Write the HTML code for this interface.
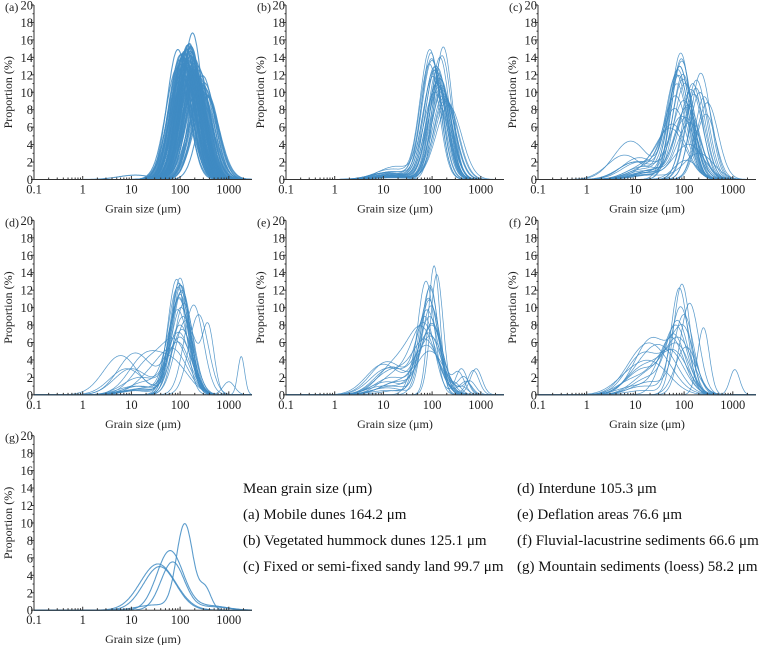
<!DOCTYPE html>
<html><head><meta charset="utf-8"><style>
body{margin:0;background:#fff}
svg{display:block;font-family:"Liberation Serif",serif}
</style></head><body>
<svg id="chart" width="760" height="645" viewBox="0 0 760 645" xmlns="http://www.w3.org/2000/svg">
<g id="legend" font-size="15" fill="#111">
<text x="243" y="493">Mean grain size (μm)</text>
<text x="243" y="519">(a) Mobile dunes  164.2 μm</text>
<text x="243" y="545">(b) Vegetated hummock dunes  125.1 μm</text>
<text x="243" y="571">(c) Fixed or semi-fixed sandy land 99.7 μm</text>
<text x="517" y="493">(d) Interdune  105.3 μm</text>
<text x="517" y="519">(e) Deflation areas  76.6 μm</text>
<text x="517" y="545">(f) Fluvial-lacustrine sediments  66.6 μm</text>
<text x="517" y="571">(g) Mountain sediments (loess)  58.2 μm</text>
</g>
</svg>
<script>
const yTicks=[0,2,4,6,8,10,12,14,16,18,20];
const xTickVals=[0.1,1,10,100,1000];
const xTickLabels=["0.1","1","10","100","1000"];
const panelLabels=["(a)","(b)","(c)","(d)","(e)","(f)","(g)"];

const aH=[16.8,15.5,15.2,14.8,14.5,14.2,14.0,13.8,13.5,13.2,13.0,12.8,12.5,12.2,12.0,11.8,11.5,11.2,11.0,10.8,10.5,15.0,14.6,14.1,13.7,13.1,12.6,12.1,11.6,15.3,14.9,13.9,13.3,12.9,12.3,11.9,10.9,10.2,9.8,9.5,14.4,13.6,12.4,11.4,15.1,14.7,13.4,12.7,11.7,10.6,14.9,14.3,13.8,13.2,12.6,12.0,11.3,10.7,10.0,9.2,15.4,14.7,14.0,13.5,12.9,12.2,11.6,10.9,15.6,14.5,13.7,12.8,11.9,11.1,14.2,13.3,12.5,11.5,10.4,9.6];
const aM=[180,150,170,130,120,160,110,200,140,100,230,125,250,190,105,210,160,95,270,300,320,135,175,115,155,145,185,205,225,165,140,128,118,195,215,240,260,280,330,350,108,148,172,188,158,122,138,168,198,178,90,102,112,126,136,152,176,196,222,262,142,162,182,132,152,172,212,242,155,118,98,88,290,310,165,185,145,125,105,380];
const aS=[0.2,0.22,0.21,0.23,0.22,0.2,0.23,0.21,0.22,0.24,0.22,0.23,0.21,0.22,0.24,0.23,0.25,0.25,0.22,0.22,0.23,0.21,0.22,0.23,0.22,0.23,0.24,0.23,0.24,0.21,0.22,0.22,0.23,0.23,0.23,0.24,0.24,0.25,0.26,0.26,0.22,0.22,0.23,0.24,0.2,0.21,0.22,0.23,0.24,0.25,0.22,0.22,0.23,0.23,0.24,0.24,0.25,0.25,0.26,0.27,0.21,0.22,0.22,0.23,0.23,0.24,0.24,0.25,0.21,0.22,0.23,0.24,0.24,0.25,0.22,0.23,0.24,0.25,0.26,0.22];
const aH2=[0.5,0,0,0,0,0,0,0,0,0];
const aM2=[12];

const bH=[14.8,14.5,15.2,13.0,12.8,12.5,12.0,11.5,11.0,10.5,10.0,9.5,9.0,13.5,14.0,12.2,11.8,10.8,9.8,8.5,13.2,12.6,11.2,10.2,9.2,14.2,13.8,12.9,11.6,10.6];
const bM=[90,95,170,120,130,110,140,150,125,160,115,180,200,100,145,135,105,155,175,220,88,118,128,165,190,160,98,112,142,138];
const bS=[0.2,0.19,0.18,0.21,0.2,0.22,0.2,0.21,0.22,0.21,0.24,0.22,0.24,0.2,0.19,0.21,0.22,0.21,0.23,0.26,0.2,0.21,0.22,0.23,0.24,0.19,0.21,0.21,0.22,0.23];
const bH2=[1.2,0.8,0,0.6,0.5,0.9,0.4,0.3,0.7,0.5,0.3,0.2,0.4,1.5,0,0.6,0.8,0.5,0.3,0.3,0.7,0.5,0.4,0.3,0.2,0,0.9,0.6,0.4,0.3];
const bM2=[15,12,15,15,10,15,15,15,12,15,15,15,15,18,15,15,12,15,15,15,15,15,15,15,15,15,15,15,15,15];

const cH=[14.5,13.5,13.0,12.5,12.0,11.5,11.0,10.5,10.0,9.5,9.0,8.5,8.0,7.5,7.0,6.5,12.2,11.4,10.2,9.8,8.8,7.2,6.0,5.5,13.8,12.8,11.8,10.8,9.2,8.2,4.0,3.0,2.2,12.0,11.0];
const cM=[85,90,80,75,70,95,150,175,210,260,100,120,65,280,110,130,220,180,140,160,300,90,60,55,88,82,78,72,68,115,125,200,110,95,105];
const cS=[0.2,0.21,0.22,0.22,0.23,0.22,0.2,0.2,0.2,0.19,0.24,0.24,0.25,0.2,0.25,0.25,0.2,0.21,0.23,0.22,0.22,0.27,0.28,0.3,0.2,0.21,0.22,0.22,0.24,0.25,0.3,0.3,0.25,0.21,0.22];
const cH2=[0,1,0,4.4,2.8,0,0,0,0,0,2.5,1.5,2,0,1,0.8,0,0,1.2,0,0,2,1.5,1,0.5,0.8,1.2,2,1.5,0.8,0.5,0.5,0,0.8,0.6];
const cM2=[8,15,8,8,6,8,8,8,8,8,12,15,10,8,20,20,8,8,25,8,8,10,15,18,15,20,15,12,18,20,20,20,8,15,18];

const dH=[13.4,13.2,12.8,12.5,12.2,12.0,11.5,11.0,10.5,10.0,9.5,9.0,8.5,8.0,7.0,6.0,5.0,4.0,3.0,10.3,9.2,12.6,11.8,11.2,7.5,6.5];
const dM=[100,85,95,105,90,110,100,95,120,105,90,115,130,100,95,90,85,80,80,190,240,100,105,95,110,100];
const dS=[0.18,0.18,0.19,0.19,0.2,0.2,0.21,0.21,0.2,0.21,0.22,0.22,0.22,0.23,0.24,0.25,0.26,0.28,0.3,0.2,0.2,0.2,0.2,0.21,0.22,0.24];
const dH2=[0,0.5,0,1,0.8,0,0.5,1,0,0.6,1.5,0,0,4.5,4.8,3,4,2.5,4.5,0,0,0,0.7,0,3,2];
const dM2=[10,15,10,15,20,10,10,12,10,15,20,10,10,6,12,10,25,30,20,10,10,10,15,10,8,15];
const dH3=[0,0,0,0,0,0,0,0,0,0,0,0,7.3,0,0,0,0,0,0,0,0,4.4,0,1.5,0,0];
const dM3=[500,500,500,500,500,500,500,500,500,500,500,500,380,500,500,500,500,500,500,500,500,1800,500,1000,500,500];

const eH=[14.8,13.8,13.0,12.2,11.0,10.2,9.5,8.8,8.0,7.5,7.0,6.5,6.0,5.5,5.0,9.0,7.8,6.8,10.8,12.5];
const eM=[110,125,75,90,85,95,80,90,100,70,85,95,75,80,90,70,100,65,88,92];
const eS=[0.12,0.13,0.17,0.18,0.2,0.2,0.22,0.22,0.22,0.25,0.25,0.26,0.27,0.28,0.3,0.2,0.22,0.28,0.19,0.16];
const eH2=[0,0,0.5,1,1.5,0,3.8,2,3.2,2.5,3.5,1.5,2.8,3,1,0,1.5,3.5,0.5,0.8];
const eM2=[15,15,12,15,12,15,12,15,15,20,10,20,15,12,10,15,20,18,20,12];
const eH3=[0,0,0,1,0,2.5,0,2.8,1.5,0,2,0,3,0,1.5,3,0,0,1.2,0];
const eM3=[500,500,500,400,500,350,500,700,500,500,450,500,800,500,600,400,500,500,300,500];

const fH=[12.7,12.2,10.5,10.0,9.0,8.0,7.5,7.0,6.5,6.0,5.5,5.0,4.5,4.0,3.5,3.0,7.7,2.9,6.8,5.2];
const fM=[90,80,130,85,100,75,70,60,55,80,110,50,65,40,30,25,250,1100,100,75];
const fS=[0.17,0.17,0.19,0.2,0.2,0.22,0.23,0.25,0.26,0.28,0.22,0.3,0.28,0.32,0.35,0.35,0.12,0.1,0.22,0.25];
const fH2=[0,0.5,0,1,1.5,2,3,0,1,2.5,0,1.8,3.2,3,3.5,2,0,0,6.5,4.8];
const fM2=[15,15,15,15,20,20,15,15,10,20,15,10,15,15,12,8,15,15,22,15];

const gH=[9.8,6.8,5.5,5.3,5.0];
const gM=[125,62,70,35,38];
const gS=[0.17,0.27,0.24,0.36,0.33];
const gH2=[0.6,0.5,0.4,0,0];
const gM2=[30,400,400,30,30];
const gH3=[2.4,0,0,0,0];
const gM3=[330,500,500,500,500];

const panels=[
 {H:aH,M:aM,S:aS,H2:aH2,M2:aM2},
 {H:bH,M:bM,S:bS,H2:bH2,M2:bM2},
 {H:cH,M:cM,S:cS,H2:cH2,M2:cM2},
 {H:dH,M:dM,S:dS,H2:dH2,M2:dM2,H3:dH3,M3:dM3},
 {H:eH,M:eM,S:eS,H2:eH2,M2:eM2,H3:eH3,M3:eM3},
 {H:fH,M:fM,S:fS,H2:fH2,M2:fM2},
 {H:gH,M:gM,S:gS,H2:gH2,M2:gM2,H3:gH3,M3:gM3}
];

const NS="http://www.w3.org/2000/svg";
const svg=document.getElementById('chart');
function mk(tag,attrs,parent){const e=document.createElementNS(NS,tag);for(const k in attrs)e.setAttribute(k,attrs[k]);parent.appendChild(e);return e;}
function gauss(x,h,m,s){const d=(Math.log10(x)-Math.log10(m))/s;return h*Math.exp(-0.5*d*d);}

panels.forEach((p,i)=>{
  const ox=(i%3)*252, oy=Math.floor(i/3)*215.35;
  const x0=ox+34, yB=oy+179.5, yT=oy+5, dec=48.7, xR=x0+218;
  const xS=v=>x0+(Math.log10(v)+1)*dec;
  const yS=v=>yB-(v/20)*(yB-yT);
  const g=mk('g',{},svg);
  
  
  const cg=mk('g',{fill:'none',stroke:'#3f8bc3','stroke-width':i===6?'1.1':(i===0?'1.1':'0.75'),'stroke-opacity':'0.85'},g);
  
  
  for(let k=0;k<p.H.length;k++){
    let d='';
    for(let j=0;j<=260;j++){
      const lx=-1+j*(4.477/260), x=Math.pow(10,lx);
      let y=gauss(x,p.H[k],p.M[k],p.S[k]);
      if(p.H2&&p.H2[k])y+=gauss(x,p.H2[k],p.M2[k]||15,0.35);
      if(p.H3&&p.H3[k])y+=gauss(x,p.H3[k],p.M3[k],p.M3[k]>1500?0.07:0.12);
      d+=(j?'L':'M')+xS(x).toFixed(1)+' '+yS(y).toFixed(1);
    }
    const path=mk('path',{d:d},cg);
    
    
  }
  const ax=mk('g',{stroke:'#333','stroke-width':'1',fill:'none'},g);
  
  
  mk('line',{x1:x0,y1:yT,x2:x0,y2:yB},ax);
  mk('line',{x1:x0,y1:yB,x2:xR,y2:yB},ax);
  yTicks.forEach((t,j)=>{
    mk('line',{x1:x0-3,y1:yS(t),x2:x0,y2:yS(t)},ax);
    if(j<yTicks.length-1)mk('line',{x1:x0-1.5,y1:yS(t+1),x2:x0,y2:yS(t+1)},ax);
    const tx=mk('text',{x:x0-1,y:yS(t)+4.5,'text-anchor':'end','font-size':'12.5',fill:'#222',stroke:'none'},g);
    
    
    tx.textContent=t;
  });
  for(let e=-1;e<=3;e++){for(let m=1;m<=9;m++){const v=m*Math.pow(10,e);const px=xS(v);if(px>xR)break;mk('line',{x1:px,y1:yB,x2:px,y2:yB-(m===1?3.5:2)},ax);}}
  xTickVals.forEach((v,j)=>{
    const tx=mk('text',{x:xS(v),y:yB+14,'text-anchor':'middle','font-size':'12.5',fill:'#222'},g);
    
    
    tx.textContent=xTickLabels[j];
  });
  const xt=mk('text',{x:x0+109,y:yB+33,'text-anchor':'middle','font-size':'12',fill:'#222'},g);
  
  
  xt.textContent='Grain size (μm)';
  const yt=mk('text',{x:0,y:0,'text-anchor':'middle','font-size':'12',fill:'#222',transform:`translate(${ox+12},${(yT+yB)/2}) rotate(-90)`},g);
  
  
  yt.textContent='Proportion (%)';
  const pl=mk('text',{x:ox+5,y:yT+6,'font-size':'12',fill:'#222'},g);
  
  
  pl.textContent=panelLabels[i];
});
</script>
</body></html>
